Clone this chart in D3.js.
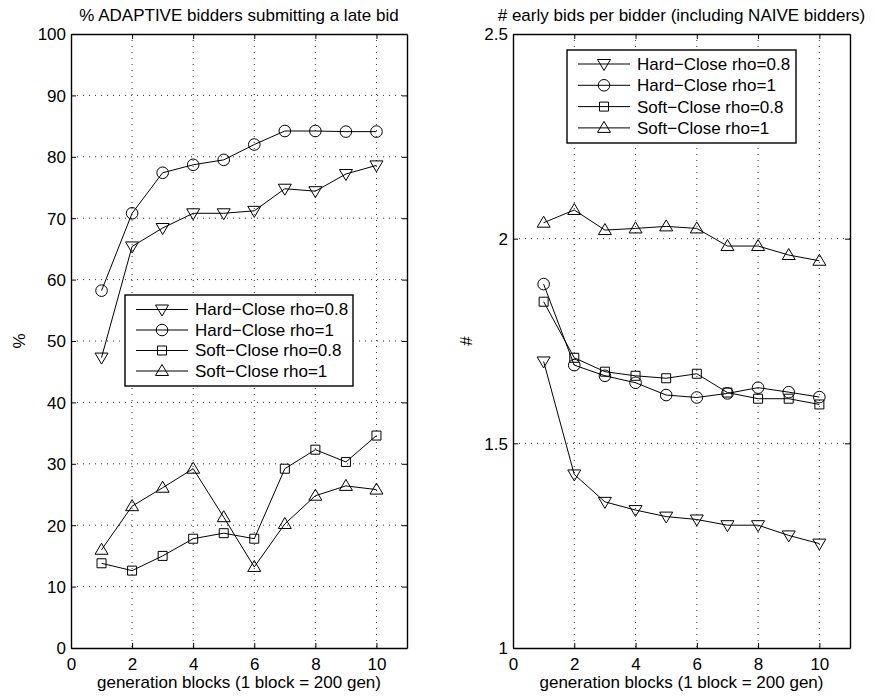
<!DOCTYPE html>
<html><head><meta charset="utf-8">
<script src="https://cdn.jsdelivr.net/npm/d3@7"></script>
<style>body{margin:0;background:#fff}text{font-family:"Liberation Sans",Arial,sans-serif;fill:#000}</style>
</head><body><svg id="c" width="876" height="700"></svg>
<script>
const blocks = [1,2,3,4,5,6,7,8,9,10];
const seriesNames = ["Hard\u2212Close rho=0.8","Hard\u2212Close rho=1","Soft\u2212Close rho=0.8","Soft\u2212Close rho=1"];
const markers = ["tdown","circle","square","tup"];
// Left: % ADAPTIVE bidders submitting a late bid
const lateHard08 = [47.3,65.4,68.4,70.8,70.8,71.2,74.8,74.4,77.2,78.6];
const lateHard1  = [58.2,70.8,77.4,78.7,79.5,82.0,84.2,84.2,84.1,84.1];
const lateSoft08 = [13.8,12.6,15.0,17.8,18.7,17.8,29.2,32.3,30.3,34.6];
const lateSoft1  = [16.0,23.1,26.1,29.2,21.3,13.2,20.2,24.8,26.4,25.8];
// Right: # early bids per bidder
const earlyHard08 = [1.700,1.424,1.357,1.337,1.321,1.314,1.300,1.300,1.275,1.255];
const earlyHard1  = [1.889,1.691,1.665,1.648,1.618,1.612,1.622,1.636,1.625,1.613];
const earlySoft08 = [1.846,1.709,1.675,1.665,1.659,1.670,1.624,1.609,1.609,1.595];
const earlySoft1  = [2.039,2.070,2.021,2.025,2.030,2.025,1.982,1.982,1.960,1.946];
const xTicks = [0,2,4,6,8,10];
const leftYTicks = [0,10,20,30,40,50,60,70,80,90,100];
const rightYTicks = [1,1.5,2,2.5];

const FS = "17px";
const svg = d3.select("#c");

function markerPath(type){
  if(type==="square") return "M-4.5,-4.5H4.5V4.5H-4.5Z";
  if(type==="tup") return "M0,-6.5L6.5,4.5L-6.5,4.5Z";
  if(type==="tdown") return "M0,6.5L6.5,-4.5L-6.5,-4.5Z";
}
function drawMarker(g,type,x,y){
  if(type==="circle") g.append("circle").attr("cx",x).attr("cy",y).attr("r",5.8).attr("fill","none").attr("stroke","#000").attr("stroke-width",1);
  else g.append("path").attr("d",markerPath(type)).attr("transform",`translate(${x},${y})`).attr("fill","none").attr("stroke","#000").attr("stroke-width",1);
}

function panel(opts){
  const {x0,x1,y0,y1,ydom,yticks,yfmt,series,title,ylabel,legend} = opts;
  const x = d3.scaleLinear().domain([0,11]).range([x0,x1]);
  const y = d3.scaleLinear().domain(ydom).range([y1,y0]);
  const g = svg.append("g");
  // grid
  g.append("g").selectAll("line").data(xTicks.filter(t=>t>0)).join("line")
    .attr("x1",d=>x(d)).attr("x2",d=>x(d)).attr("y1",y0).attr("y2",y1)
    .attr("stroke","#333").attr("stroke-width",1).attr("stroke-dasharray","1,5");
  g.append("g").selectAll("line").data(yticks.slice(1,-1)).join("line")
    .attr("y1",d=>y(d)).attr("y2",d=>y(d)).attr("x1",x0).attr("x2",x1)
    .attr("stroke","#333").attr("stroke-width",1).attr("stroke-dasharray","1,5");
  // axes with inward ticks
  const ax = g.append("g").attr("transform",`translate(0,${y1})`)
    .call(d3.axisBottom(x).tickValues(xTicks).tickSizeInner(-5).tickSizeOuter(0).tickPadding(10));
  const axT = g.append("g").attr("transform",`translate(0,${y0})`)
    .call(d3.axisTop(x).tickValues(xTicks).tickSizeInner(-5).tickSizeOuter(0).tickFormat(""));
  const ay = g.append("g").attr("transform",`translate(${x0},0)`)
    .call(d3.axisLeft(y).tickValues(yticks).tickSizeInner(-5).tickSizeOuter(0).tickPadding(5).tickFormat(yfmt));
  const ayR = g.append("g").attr("transform",`translate(${x1},0)`)
    .call(d3.axisRight(y).tickValues(yticks).tickSizeInner(-5).tickSizeOuter(0).tickFormat(""));
  [ax,axT,ay,ayR].forEach(a=>{a.select(".domain").attr("stroke","#000").attr("stroke-width",1.4);
    a.selectAll("text").style("font-size",FS).style("font-family","Liberation Sans, Arial, sans-serif");});
  ay.selectAll(".tick text").attr("dy","0.35em");
  // series
  const line = d3.line().x((d,i)=>x(blocks[i])).y(d=>y(d));
  series.forEach((s,k)=>{
    g.append("path").attr("d",line(s)).attr("fill","none").attr("stroke","#000").attr("stroke-width",1);
    const mg = g.append("g");
    s.forEach((v,i)=>drawMarker(mg,markers[k],x(blocks[i]),y(v)));
  });
  // title and labels
  g.append("text").attr("x",(x0+x1)/2).attr("y",21).attr("text-anchor","middle").style("font-size",FS).text(title);
  g.append("text").attr("x",(x0+x1)/2).attr("y",688).attr("text-anchor","middle").style("font-size",FS).text("generation blocks (1 block = 200 gen)");
  g.append("text").attr("transform",`translate(${opts.ylx},${(y0+y1)/2}) rotate(-90)`).attr("text-anchor","middle").style("font-size",FS).text(ylabel);
  // legend
  const L = legend;
  const lg = g.append("g");
  lg.append("rect").attr("x",L.x).attr("y",L.y).attr("width",L.w).attr("height",L.h).attr("fill","#fff").attr("stroke","#000").attr("stroke-width",1.4);
  seriesNames.forEach((n,k)=>{
    const yy = L.y + L.first + k*L.step;
    lg.append("line").attr("x1",L.x+11).attr("x2",L.x+63).attr("y1",yy).attr("y2",yy).attr("stroke","#000");
    drawMarker(lg,markers[k],L.x+37,yy);
    lg.append("text").attr("x",L.x+70).attr("y",yy).attr("dy","0.35em").style("font-size",FS).text(n);
  });
}

panel({x0:71,x1:407,y0:34,y1:648,ydom:[0,100],yticks:leftYTicks,yfmt:d3.format("d"),
  series:[lateHard08,lateHard1,lateSoft08,lateSoft1],
  title:"% ADAPTIVE bidders submitting a late bid",ylabel:"%",ylx:25,
  legend:{x:125,y:295,w:228,h:91,first:14.5,step:20.5}});
panel({x0:513,x1:850,y0:34,y1:648,ydom:[1,2.5],yticks:rightYTicks,yfmt:d=>String(d),
  series:[earlyHard08,earlyHard1,earlySoft08,earlySoft1],
  title:"# early bids per bidder (including NAIVE bidders)",ylabel:"#",ylx:472,
  legend:{x:567,y:50,w:229,h:93,first:14,step:21.3}});
</script></body></html>
